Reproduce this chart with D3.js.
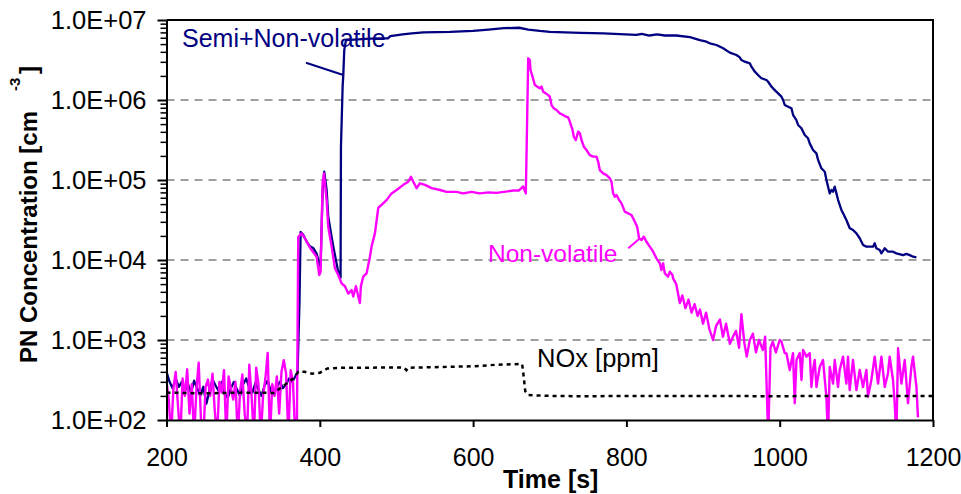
<!DOCTYPE html>
<html>
<head>
<meta charset="utf-8">
<script src="https://cdn.jsdelivr.net/npm/d3@7"></script>
<style>
html,body{margin:0;padding:0;background:#fff;}
svg{display:block;}
text{font-family:"Liberation Sans",Arial,sans-serif;}
</style>
</head>
<body>
<svg id="chart" width="961" height="494"></svg>
<script>
// ---------- data ----------
const xTicks = [200, 400, 600, 800, 1000, 1200];
const yTicks = [1e2, 1e3, 1e4, 1e5, 1e6, 1e7];
const yTickLabels = ["1.0E+02", "1.0E+03", "1.0E+04", "1.0E+05", "1.0E+06", "1.0E+07"];
const seriesNames = ["Semi+Non-volatile", "Non-volatile", "NOx [ppm]"];

// Semi+Non-volatile (navy)
const snvTime = [200,204,208,212,216,220,224,228,232,236,240,244,248,252,256,260,264,268,272,276,280,284,288,292,296,300,304,308,312,316,320,324,328,332,336,340,344,348,352,356,360,364,368,
  371,373.5,375,378,382.8,387.1,391.5,395.8,399.3,401,403.7,405.8,408.9,411,413.2,415.4,417.6,421,424.1,426.3,427.1,427.6,429.8,430.6,431.9,434.1,
  445,460,475,489,492,508,520,535,570,600,620,640,660,672,687,700,740,770,813,820,830,840,850,865,883,
  895.8,904.4,908.8,917.5,926.2,934.9,943.6,947.9,950.1,954.4,961,963.1,967.5,971.8,976.2,982.7,984.9,989.2,993.6,997.9,1002.3,1004.4,1006.6,1011,1015.3,1017.5,1021.8,1024,1028.3,1032.7,1037,1039.2,1043.5,1047.9,1050.1,1054.4,1058.8,1061,1063.1,1065.3,1067.5,1069.6,1071.8,1074,1076.2,1080.5,1082.7,1087,1091.4,1095.7,1100.1,1104.4,1108.8,1113.1,1121.8,1124,1126.1,1130.5,1132.7,1137,1141.4,1147.9,1152.2,1161,1165.3,1169.6,1174,1178.3];
const snvValue = [400,300,250,330,260,300,230,280,220,310,250,200,260,160,230,320,270,230,300,210,190,250,300,240,200,280,330,250,220,290,240,200,270,310,230,210,260,300,250,280,330,300,350,
  400,3000,2.24e4,2.1e4,1.7e4,1.48e4,1.41e4,1.2e4,9.1e3,8.3e3,7.5e4,1.27e5,7.5e4,3.5e4,2.6e4,1.95e4,1.48e4,1.0e4,7.1e3,6.8e3,6.0e3,2.6e5,1.5e6,2.0e6,4.2e6,5.6e6,
  5.7e6,5.8e6,5.9e6,5.9e6,6.3e6,6.6e6,6.8e6,7.0e6,7.1e6,7.3e6,7.6e6,7.9e6,8.0e6,7.6e6,7.3e6,7.1e6,6.9e6,6.8e6,6.5e6,6.7e6,6.4e6,6.6e6,6.4e6,6.4e6,6.1e6,
  5.62e6,5.36e6,5.11e6,4.87e6,4.43e6,3.91e6,3.65e6,3.41e6,3.16e6,3.01e6,2.87e6,2.61e6,2.26e6,2.05e6,1.87e6,1.78e6,1.69e6,1.47e6,1.33e6,1.21e6,1.10e6,1.0e6,8.66e5,8.25e5,7.87e5,6.49e5,5.62e5,4.87e5,4.43e5,3.65e5,3.32e5,2.87e5,2.37e5,2.15e5,1.78e5,1.40e5,1.27e5,1.0e5,8.25e4,6.81e4,7.5e4,7.15e4,8.25e4,6.81e4,5.62e4,4.22e4,3.83e4,3.16e4,2.49e4,2.37e4,2.15e4,1.87e4,1.54e4,1.47e4,1.47e4,1.62e4,1.40e4,1.33e4,1.21e4,1.40e4,1.27e4,1.27e4,1.21e4,1.15e4,1.19e4,1.15e4,1.10e4,1.08e4];

// Non-volatile (magenta)
const nvTime = [200,203,206,209,212,215,218,221,224,227,230,233,236,239,242,245,248,251,254,257,260,263,266,269,272,275,278,281,284,287,290,293,296,299,302,305,308,311,314,317,320,323,326,329,332,335,338,341,344,347,350,353,356,359,362,365,368,370,
  371.9,376.3,380.6,385,389.3,395.8,399.3,401,403.7,405.4,408.9,411,413.2,415.4,419.7,424.1,428.4,432.8,437.1,441.5,443.7,447.1,450.2,452.3,453.6,456.7,461,465.4,467.6,471.9,476.3,480.6,487.1,493.6,500.2,508.9,515.4,518.9,522,526.3,530.6,537.2,545.9,556.8,565.4,578.4,587.1,598,608.8,620,630.6,645,652.3,660,665.3,668.8,
  671.9,674,674.9,677.5,680.6,683.6,687.1,689.3,691.4,694.9,698,700.1,702.3,705.3,708.8,713.2,717.5,721,724,726.2,729.7,731.4,734,737.1,739.3,741.4,744.5,747.9,752.3,756.6,761,763.2,765.3,769.7,774,778.4,780.5,782.7,784.9,787.1,790.5,793.6,797.9,802.3,806.6,808.8,811,814,816.6,819.7,822.7,826.2,830.5,834.9,839.2,843.6,845.7,847.9,850.1,854.4,856.6,860.1,860.9,
  865,869.7,873,877,881,885,889,893,896,900,904,908,913,917,922,926,930,935,939,943,947,950,954,957,961,965,969,973,978,981,985,988,991,995,1000,
  1002.3,1006.6,1008.8,1013.1,1017.4,1019.6,1021.9,1026.2,1028.4,1030.5,1034.9,1039.2,1041.4,1043.5,1045.7,1047.9,1052.2,1056.5,1060.9,1063,1065.3,1069.6,1071.8,1076.1,1078.3,1082.6,1087,1089.1,1091.3,1095.6,1100.1,1104.4,1108.7,1113.1,1115.2,1119.6,1123.9,1128.3,1132.7,1137,1141.3,1143.5,1147.8,1150,1152.3,1154.4,1158.8,1163.1,1167.4,1171.8,1173.9,1178.4,1180.4];
const nvValue = [300,180,60,250,400,150,60,330,200,430,120,280,60,240,520,100,60,260,320,200,380,130,60,300,220,420,60,350,250,180,300,60,230,370,120,60,490,200,60,450,280,60,200,330,690,60,280,200,350,120,400,560,380,60,420,300,60,60,
  1.95e4,2.15e4,1.86e4,1.55e4,1.33e4,1.1e4,6.5e3,7.1e3,9.1e4,1.21e5,5.6e4,2.6e4,1.95e4,1.48e4,7.9e3,6.5e3,5.1e3,4.7e3,3.8e3,4.2e3,3.5e3,4.7e3,3.5e3,2.9e3,4.7e3,6.2e3,6.8e3,1.1e4,1.48e4,2.15e4,4.5e4,4.9e4,5.6e4,6.8e4,7.5e4,8.7e4,9.5e4,1.1e5,9.5e4,7.9e4,9.1e4,8.7e4,7.9e4,7.5e4,7.1e4,7.1e4,6.8e4,7.1e4,6.8e4,7.0e4,6.9e4,7.2e4,7.4e4,7.4e4,8.3e4,6.8e4,
  3.32e6,3.16e6,2.37e6,1.96e6,1.54e6,1.47e6,1.40e6,1.47e6,1.27e6,1.21e6,1.15e6,1.10e6,8.66e5,7.87e5,7.5e5,6.81e5,6.49e5,6.19e5,6.07e5,5.36e5,4.22e5,3.48e5,3.16e5,4.02e5,3.83e5,3.16e5,2.61e5,2.37e5,2.05e5,1.96e5,1.96e5,1.69e5,1.33e5,1.21e5,1.15e5,1.05e5,9.53e4,6.81e4,6.19e4,6.49e4,5.62e4,5.11e4,4.02e4,3.83e4,3.65e4,3.32e4,3.01e4,2.61e4,1.87e4,1.78e4,1.96e4,1.69e4,1.47e4,1.27e4,1.05e4,9.09e3,7.5e3,9.09e3,6.81e3,6.19e3,7.15e3,6.49e3,5.9e3,
  5.0e3,2.9e3,3.6e3,2.5e3,3.2e3,2.2e3,2.8e3,2.0e3,2.4e3,1.6e3,2.2e3,1.4e3,1.0e3,1.5e3,1.8e3,1.1e3,1.6e3,900,1.1e3,1.3e3,800,2.1e3,900,620,1.0e3,1.2e3,700,1.0e3,750,1.1e3,60,800,950,700,1000,
  952,686,680,422,686,162,562,686,316,750,620,686,259,422,562,259,459,562,195,60,459,285,562,259,422,620,285,620,237,562,237,422,259,422,195,316,620,285,620,259,385,620,316,162,60,787,285,562,162,459,620,259,108];

// NOx (black dotted), ppm on same axis
const noxTime = [200,250,300,340,365.4,372,380,390,400,410,430,460,500,510,513,515,560,600,630,660,664,666,668,672,700,750,800,850,900,950,1000,1050,1100,1150,1200];
const noxValue = [220,215,220,218,330,400,400,380,390,440,450,450,455,450,420,450,460,470,490,500,500,350,230,205,200,198,200,200,200,199,198,200,200,200,200];

// ---------- chart ----------
const svg = d3.select("#chart");
const X0 = 166.5, X1 = 933, Y0 = 420, Y1 = 20;
const x = d3.scaleLinear().domain([200, 1200]).range([X0, X1]);
const y = d3.scaleLog().domain([1e2, 1e7]).range([Y0, Y1]);

svg.append("rect").attr("width", 961).attr("height", 494).attr("fill", "#fff");

// gridlines
svg.append("g").selectAll("line").data(yTicks.slice(1, -1)).join("line")
  .attr("x1", X0).attr("x2", X1)
  .attr("y1", d => y(d)).attr("y2", d => y(d))
  .attr("stroke", "#808080").attr("stroke-width", 1.5).attr("stroke-dasharray", "8,6");

// clip
svg.append("clipPath").attr("id", "clip").append("rect")
  .attr("x", X0).attr("y", Y1).attr("width", X1 - X0).attr("height", Y0 - Y1);

const line = d3.line().x(d => x(d[0])).y(d => y(d[1]));
const plot = svg.append("g").attr("clip-path", "url(#clip)");

plot.append("path").datum(snvTime.map((t, i) => [t, snvValue[i]]))
  .attr("d", line).attr("fill", "none").attr("stroke", "#000080").attr("stroke-width", 2.3).attr("stroke-linejoin", "round");
plot.append("path").datum(nvTime.map((t, i) => [t, nvValue[i]]))
  .attr("d", line).attr("fill", "none").attr("stroke", "#FF00FF").attr("stroke-width", 2.4).attr("stroke-linejoin", "round");
plot.append("path").datum(noxTime.map((t, i) => [t, noxValue[i]]))
  .attr("d", line).attr("fill", "none").attr("stroke", "#000").attr("stroke-width", 2.5).attr("stroke-dasharray", "4,4");

// frame (top + right)
svg.append("path").attr("d", `M${X0},${Y1}H${X1}V${Y0}`).attr("fill", "none").attr("stroke", "#000").attr("stroke-width", 2);

// x axis
const xAxis = svg.append("g").attr("transform", `translate(0,${Y0})`)
  .call(d3.axisBottom(x).tickValues(xTicks).tickSizeInner(7).tickSizeOuter(0).tickPadding(21).tickFormat(d3.format("d")));
xAxis.select(".domain").attr("stroke-width", 2);
xAxis.selectAll(".tick line").attr("stroke-width", 2);
xAxis.selectAll("text").attr("font-size", 25).attr("fill", "#000").attr("font-family", "'Liberation Sans',Arial,sans-serif");

// y minor ticks
const minor = [];
for (let e = 2; e < 7; e++) for (let m = 2; m <= 9; m++) minor.push(m * Math.pow(10, e));
const yMinor = svg.append("g").attr("transform", `translate(${X0},0)`)
  .call(d3.axisLeft(y).tickValues(minor).tickSize(6).tickFormat(""));
yMinor.select(".domain").remove();
yMinor.selectAll(".tick line").attr("stroke-width", 1.5);

// y axis
const yAxis = svg.append("g").attr("transform", `translate(${X0},0)`)
  .call(d3.axisLeft(y).tickValues(yTicks).tickSizeInner(9).tickSizeOuter(0).tickPadding(11)
    .tickFormat((d, i) => yTickLabels[i]));
yAxis.select(".domain").attr("stroke-width", 2);
yAxis.selectAll(".tick line").attr("stroke-width", 2);
yAxis.selectAll("text").attr("font-size", 25.5).attr("fill", "#000").attr("font-family", "'Liberation Sans',Arial,sans-serif");

// axis titles
svg.append("text").attr("x", (X0 + X1) / 2 + 1).attr("y", 488).attr("text-anchor", "middle")
  .attr("font-size", 25).attr("font-weight", "bold").text("Time [s]");
svg.append("text").attr("transform", "translate(37,363) rotate(-90)")
  .attr("font-size", 24).attr("font-weight", "bold").text("PN Concentration [cm");
svg.append("text").attr("transform", "translate(20,91) rotate(-90)")
  .attr("font-size", 15).attr("font-weight", "bold").text("-3");
svg.append("text").attr("transform", "translate(37,74) rotate(-90)")
  .attr("font-size", 24).attr("font-weight", "bold").text("]");

// series labels + leader lines
svg.append("text").attr("x", 182).attr("y", 47).attr("font-size", 25).attr("fill", "#000080").text(seriesNames[0]);
svg.append("line").attr("x1", 306).attr("y1", 62.7).attr("x2", 343.3).attr("y2", 75).attr("stroke", "#000080").attr("stroke-width", 2);
svg.append("text").attr("x", 488).attr("y", 262).attr("font-size", 24.5).attr("fill", "#FF00FF").text(seriesNames[1]);
svg.append("line").attr("x1", 628.3).attr("y1", 248.3).attr("x2", 640).attr("y2", 238.3).attr("stroke", "#FF00FF").attr("stroke-width", 2);
svg.append("text").attr("x", 537).attr("y", 367).attr("font-size", 25.5).attr("fill", "#000").text(seriesNames[2]);
</script>
</body>
</html>
